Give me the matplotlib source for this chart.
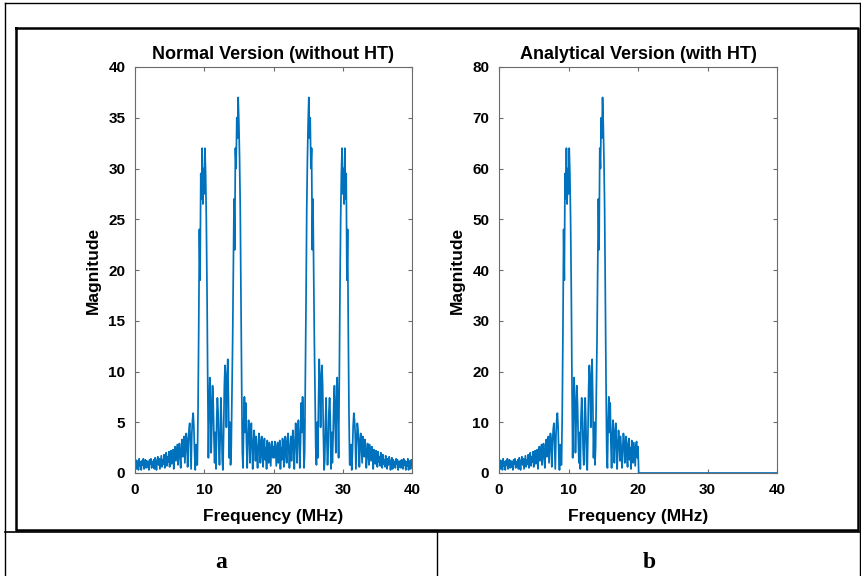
import numpy as np
import matplotlib.pyplot as plt
from matplotlib.lines import Line2D

# one-sided magnitude of the plain spectrum, 0 .. 20 MHz in 0.1 MHz steps
freq_step = 0.1
half_mag = [
    0.8, 1.3, 0.4, 1.2, 0.9, 0.3, 1.4, 0.7, 1.1, 0.3,   # 0.0 - 0.9
    1.2, 0.8, 1.4, 0.4, 1.0, 1.3, 0.5, 1.2, 0.6, 1.1,   # 1.0 - 1.9
    0.3, 1.3, 0.9, 1.4, 0.5, 1.1, 0.7, 1.3, 0.4, 1.5,   # 2.0 - 2.9
    1.0, 0.3, 1.2, 1.6, 0.8, 1.4, 0.4, 1.1, 1.7, 0.6,   # 3.0 - 3.9
    1.3, 0.9, 1.8, 0.5, 1.5, 2.0, 0.7, 1.6, 1.1, 2.1,   # 4.0 - 4.9
    0.6, 1.9, 2.2, 0.9, 1.4, 2.3, 0.4, 1.8, 2.6, 1.2,   # 5.0 - 5.9
    2.0, 2.8, 0.8, 2.2, 2.9, 1.5, 0.5, 2.7, 3.3, 1.6,   # 6.0 - 6.9
    2.9, 3.6, 1.0, 2.4, 3.9, 3.2, 0.6, 3.0, 4.3, 4.9,   # 7.0 - 7.9
    2.5, 0.4, 3.8, 5.2, 5.9, 4.6, 2.0, 0.3, 2.8, 0.8,   # 8.0 - 8.9
    0.8, 6.0, 14.0, 24.0, 19.0, 29.5, 27.0, 32.0, 26.5, 30.0,   # 9.0 - 9.9
    27.5, 32.0, 29.5, 25.0, 18.0, 9.0, 1.5, 6.0, 9.4, 7.5,      # 10.0 - 10.9
    2.0, 5.0, 8.6, 6.8, 3.5, 1.0, 4.0, 0.4, 5.5, 7.4,   # 11.0 - 11.9
    6.0, 2.5, 0.8, 3.5, 7.4, 5.0, 1.2, 0.3, 4.0, 8.5,   # 12.0 - 12.9
    10.6, 9.0, 4.5, 9.5, 11.2, 7.0, 1.5, 5.0, 0.8, 2.5,         # 13.0 - 13.9
    8.0, 13.0, 20.0, 27.0, 22.0, 32.0, 30.0, 35.0, 33.0, 37.0,  # 14.0 - 14.9
    34.5, 31.0, 26.0, 17.0, 9.0, 2.0, 0.5, 5.0, 7.5, 4.0,       # 15.0 - 15.9
    6.9, 3.0, 0.5, 3.5, 5.2, 4.0, 1.0, 3.8, 4.9, 2.5,   # 16.0 - 16.9
    0.4, 2.8, 4.2, 3.0, 1.2, 3.6, 2.0, 0.5, 2.4, 3.9,   # 17.0 - 17.9
    3.2, 1.0, 2.6, 3.6, 1.6, 0.6, 2.9, 3.4, 1.3, 2.5,   # 18.0 - 18.9
    0.4, 3.2, 2.2, 1.0, 3.0, 1.8, 0.7, 2.8, 3.1, 1.5,   # 19.0 - 19.9
    2.6,                                                # 20.0
]

titles = ["Normal Version (without HT)", "Analytical Version (with HT)"]
y_limits = [40, 80]
x_ticks = [0, 10, 20, 30, 40]
panel_labels = ["a", "b"]

half = np.array(half_mag)
n_half = len(half)
freq = np.arange(2 * n_half - 1) * freq_step

# real signal: spectrum mirrors around fs/2 = 20 MHz
normal_mag = np.concatenate([half, half[-2::-1]])
# analytic signal: positive band doubled, upper half empty
analytic_mag = np.concatenate([2 * half, np.zeros(n_half - 1)])

matlab_blue = "#0072BD"
spine_gray = "#6b6b6b"
font = "Liberation Sans"

fig = plt.figure(figsize=(8.61, 5.76), dpi=100)
W, H = 861.0, 576.0


def px_axes(x0, x1, y0, y1):
    return fig.add_axes([x0 / W, 1 - y1 / H, (x1 - x0) / W, (y1 - y0) / H])


axes = [px_axes(135, 412, 67, 473), px_axes(499, 777, 67, 473)]

for ax, mag, title, ymax in zip(axes, [normal_mag, analytic_mag], titles, y_limits):
    ax.plot(freq, mag, color=matlab_blue, lw=1.25)
    ax.set_xlim(0, 40)
    ax.set_ylim(0, ymax)
    ax.set_xticks(x_ticks)
    yt = np.arange(0, ymax + 1, ymax // 8)
    ax.set_yticks(yt)
    ax.tick_params(direction="in", length=3, width=0.8, color=spine_gray,
                   top=True, right=True, labelsize=11, pad=7)
    for lab in ax.get_xticklabels() + ax.get_yticklabels():
        lab.set_fontweight("bold")
        lab.set_family(font)
    for sp in ax.spines.values():
        sp.set_color(spine_gray)
        sp.set_linewidth(0.8)
    ax.set_title(title, fontsize=13, fontweight="bold", family=font, pad=6)
    ax.set_xlabel("Frequency (MHz)", fontsize=12.5, fontweight="bold", family=font, labelpad=9)
    ax.set_ylabel("Magnitude", fontsize=12.5, fontweight="bold", family=font, labelpad=5)


# table frame around the figure
def fig_line(xs, ys, lw):
    fig.add_artist(Line2D([x / W for x in xs], [1 - y / H for y in ys],
                          color="black", lw=lw, transform=fig.transFigure))


fig_line([5, 861], [3, 3], 1.0)
fig_line([5, 5], [3, 576], 1.0)
fig_line([860, 860], [3, 576], 1.0)
fig_line([16, 858, 858, 16, 16], [28, 28, 530, 530, 28], 1.8)
fig_line([5, 861], [532, 532], 1.2)
fig_line([437, 437], [532, 576], 1.0)

for label, xc in zip(panel_labels, [221, 649]):
    fig.text(xc / W, 1 - 563 / H, label, ha="center", va="center",
             fontsize=17, fontweight="bold", family="Liberation Serif")

fig.savefig("out.png", dpi=100)
